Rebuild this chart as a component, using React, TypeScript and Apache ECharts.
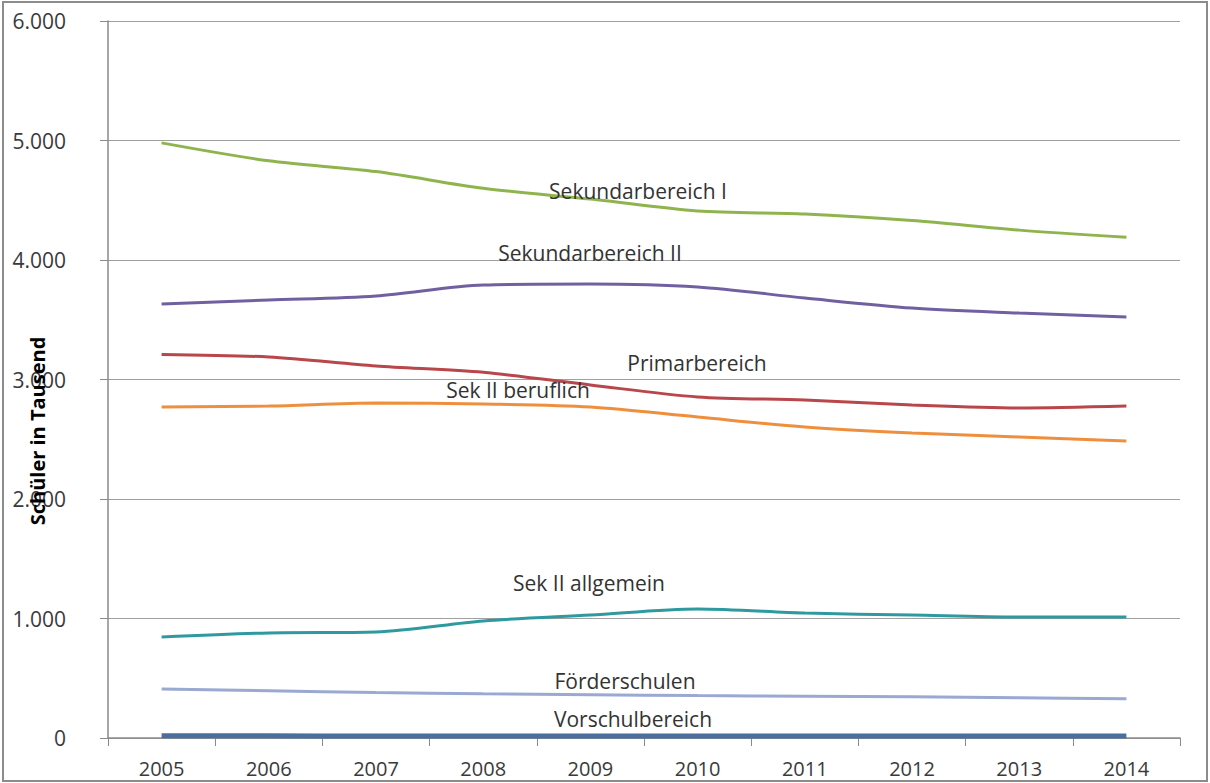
import React, { useEffect, useRef } from "react";
import * as echarts from "echarts";

const years = ["2005", "2006", "2007", "2008", "2009", "2010", "2011", "2012", "2013", "2014"];
const sekI = [4980, 4830, 4740, 4600, 4510, 4410, 4385, 4330, 4250, 4190];
const sekII = [3632, 3665, 3699, 3791, 3799, 3774, 3682, 3598, 3556, 3523];
const primar = [3210, 3188, 3113, 3060, 2954, 2854, 2828, 2787, 2762, 2778];
const sekIIberuf = [2770, 2778, 2803, 2795, 2770, 2686, 2603, 2552, 2519, 2485];
const sekIIallg = [845, 879, 887, 979, 1029, 1080, 1046, 1029, 1013, 1013];
const foerder = [410, 395, 380, 370, 362, 355, 350, 345, 337, 328];
const vorschul = [18, 18, 17, 17, 17, 17, 17, 17, 17, 17];

const seriesDefs = [
  { name: "Sekundarbereich I", data: sekI, color: "#8FB44E", width: 3 },
  { name: "Sekundarbereich II", data: sekII, color: "#7160A0", width: 3 },
  { name: "Primarbereich", data: primar, color: "#B8464A", width: 3 },
  { name: "Sek II beruflich", data: sekIIberuf, color: "#EE8F3E", width: 3 },
  { name: "Sek II allgemein", data: sekIIallg, color: "#2E9A9F", width: 3 },
  { name: "Förderschulen", data: foerder, color: "#9AA9D2", width: 3 },
  { name: "Vorschulbereich", data: vorschul, color: "#4A6E9E", width: 5 },
];

const labels = [
  { text: "Sekundarbereich I", x: 638, y: 191 },
  { text: "Sekundarbereich II", x: 590, y: 253 },
  { text: "Primarbereich", x: 697, y: 363 },
  { text: "Sek II beruflich", x: 518, y: 390 },
  { text: "Sek II allgemein", x: 589, y: 583 },
  { text: "Förderschulen", x: 625, y: 681 },
  { text: "Vorschulbereich", x: 633, y: 719 },
];

const fmt = (v: number) => {
  if (v === 0) return "0";
  const s = String(Math.round(v));
  return s.replace(/\B(?=(\d{3})+(?!\d))/g, ".");
};

export default function App() {
  const ref = useRef<HTMLDivElement>(null);
  useEffect(() => {
    if (!ref.current) return;
    const chart = echarts.init(ref.current, null, { renderer: "svg" });
    const font = "'Open Sans', 'Noto Sans', sans-serif";
    chart.setOption({
      animation: false,
      backgroundColor: "#ffffff",
      grid: { left: 108, right: 30, top: 21, bottom: 45, containLabel: false },
      xAxis: {
        type: "category",
        data: years,
        boundaryGap: true,
        axisLine: { lineStyle: { color: "#8a8a8a", width: 1.5 } },
        axisTick: { show: true, length: 8, lineStyle: { color: "#8a8a8a" } },
        axisLabel: { color: "#3a3a3a", fontSize: 20, fontFamily: font, margin: 20 },
        splitLine: { show: false },
      },
      yAxis: {
        type: "value",
        min: 0,
        max: 6000,
        interval: 1000,
        axisLine: { show: true, lineStyle: { color: "#8a8a8a", width: 1.5 } },
        axisTick: { show: true, length: 8, lineStyle: { color: "#8a8a8a" } },
        axisLabel: {
          color: "#3a3a3a",
          fontSize: 21,
          fontFamily: font,
          margin: 42,
          formatter: (v: number) => fmt(v),
        },
        splitLine: { show: true, lineStyle: { color: "#a0a0a0", width: 1.2 } },
      },
      series: seriesDefs.map((s) => ({
        name: s.name,
        type: "line",
        data: s.data,
        smooth: 0.3,
        symbol: "none",
        lineStyle: { color: s.color, width: s.width },
        itemStyle: { color: s.color },
        z: 3,
      })),
      graphic: [
        {
          type: "rect",
          shape: { x: 3, y: 2, width: 1204, height: 779 },
          style: { fill: "none", stroke: "#8c8c8c", lineWidth: 2 },
          silent: true,
          z: 10,
        },
        {
          type: "text",
          x: 37,
          y: 431,
          rotation: Math.PI / 2,
          style: {
            text: "Schüler in Tausend",
            fontSize: 20,
            fontWeight: "bold",
            fontFamily: font,
            fill: "#000000",
            align: "center",
            verticalAlign: "middle",
          },
          z: 10,
        },
        ...labels.map((l) => ({
          type: "text",
          x: l.x,
          y: l.y,
          style: {
            text: l.text,
            fontSize: 21,
            fontFamily: font,
            fill: "#333333",
            align: "center",
            verticalAlign: "middle",
          },
          z: 10,
        })),
      ],
    });
    return () => chart.dispose();
  }, []);
  return (
    <div
      ref={ref}
      style={{ position: "absolute", left: 0, top: 0, width: 1210, height: 783 }}
    />
  );
}
